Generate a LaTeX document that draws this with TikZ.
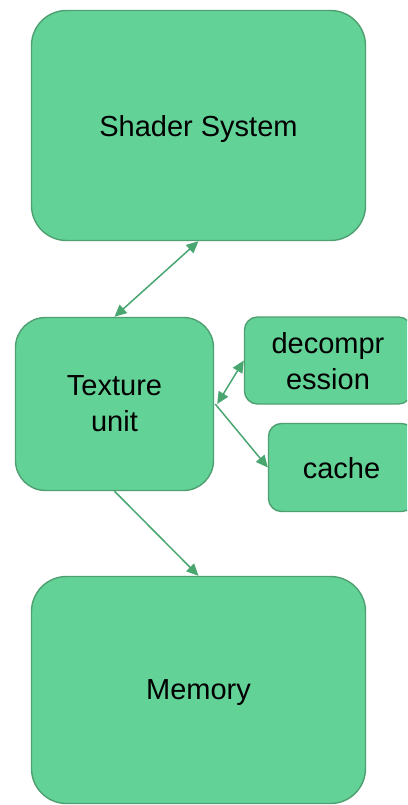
\documentclass[tikz,border=0pt]{standalone}
\usepackage{fontspec}
\setmainfont{Liberation Sans}
\usetikzlibrary{arrows.meta}
\definecolor{boxfill}{RGB}{99,210,151}
\definecolor{boxline}{RGB}{78,160,112}
\definecolor{linkc}{RGB}{74,166,113}
\tikzset{
  block/.style={draw=boxline, fill=boxfill, line width=1.4pt, inner sep=0pt,
    align=center, text depth=0pt, font=\fontsize{29}{36}\selectfont},
  link/.style={draw=linkc, line width=1.5pt, -{Triangle[length=12pt,width=11pt]}},
  duplex/.style={draw=linkc, line width=1.5pt,
    {Triangle[length=12pt,width=11pt]}-{Triangle[length=12pt,width=11pt]}}
}
\begin{document}
\begin{tikzpicture}[x=1pt, y=-1pt]
  \useasboundingbox (0,0) rectangle (407,805);
  \clip (0,0) rectangle (407,805);
  % main components
  \node[block, minimum width=334pt, minimum height=230pt, rounded corners=35pt]
    (shader) at (198.5,125.5) {Shader System};
  \node[block, minimum width=198pt, minimum height=173pt, rounded corners=30pt]
    (texture) at (114.5,404) {Texture\\unit};
  \node[block, minimum width=167pt, minimum height=87pt, rounded corners=13pt]
    (decomp) at (328,360.5) {decompr\\ession};
  \node[block, minimum width=146pt, minimum height=88pt, rounded corners=13pt]
    (cache) at (341.5,467.5) {cache};
  \node[block, minimum width=334pt, minimum height=227pt, rounded corners=35pt]
    (memory) at (198.5,690) {Memory};
  % connections
  \draw[duplex] (shader.south) -- (texture.north);
  \draw[duplex] (decomp.west) -- ([xshift=3pt]texture.east);
  \draw[link] ([xshift=1pt]texture.east) -- (cache.west);
  \draw[link] (texture.south) -- (memory.north);
\end{tikzpicture}
\end{document}
